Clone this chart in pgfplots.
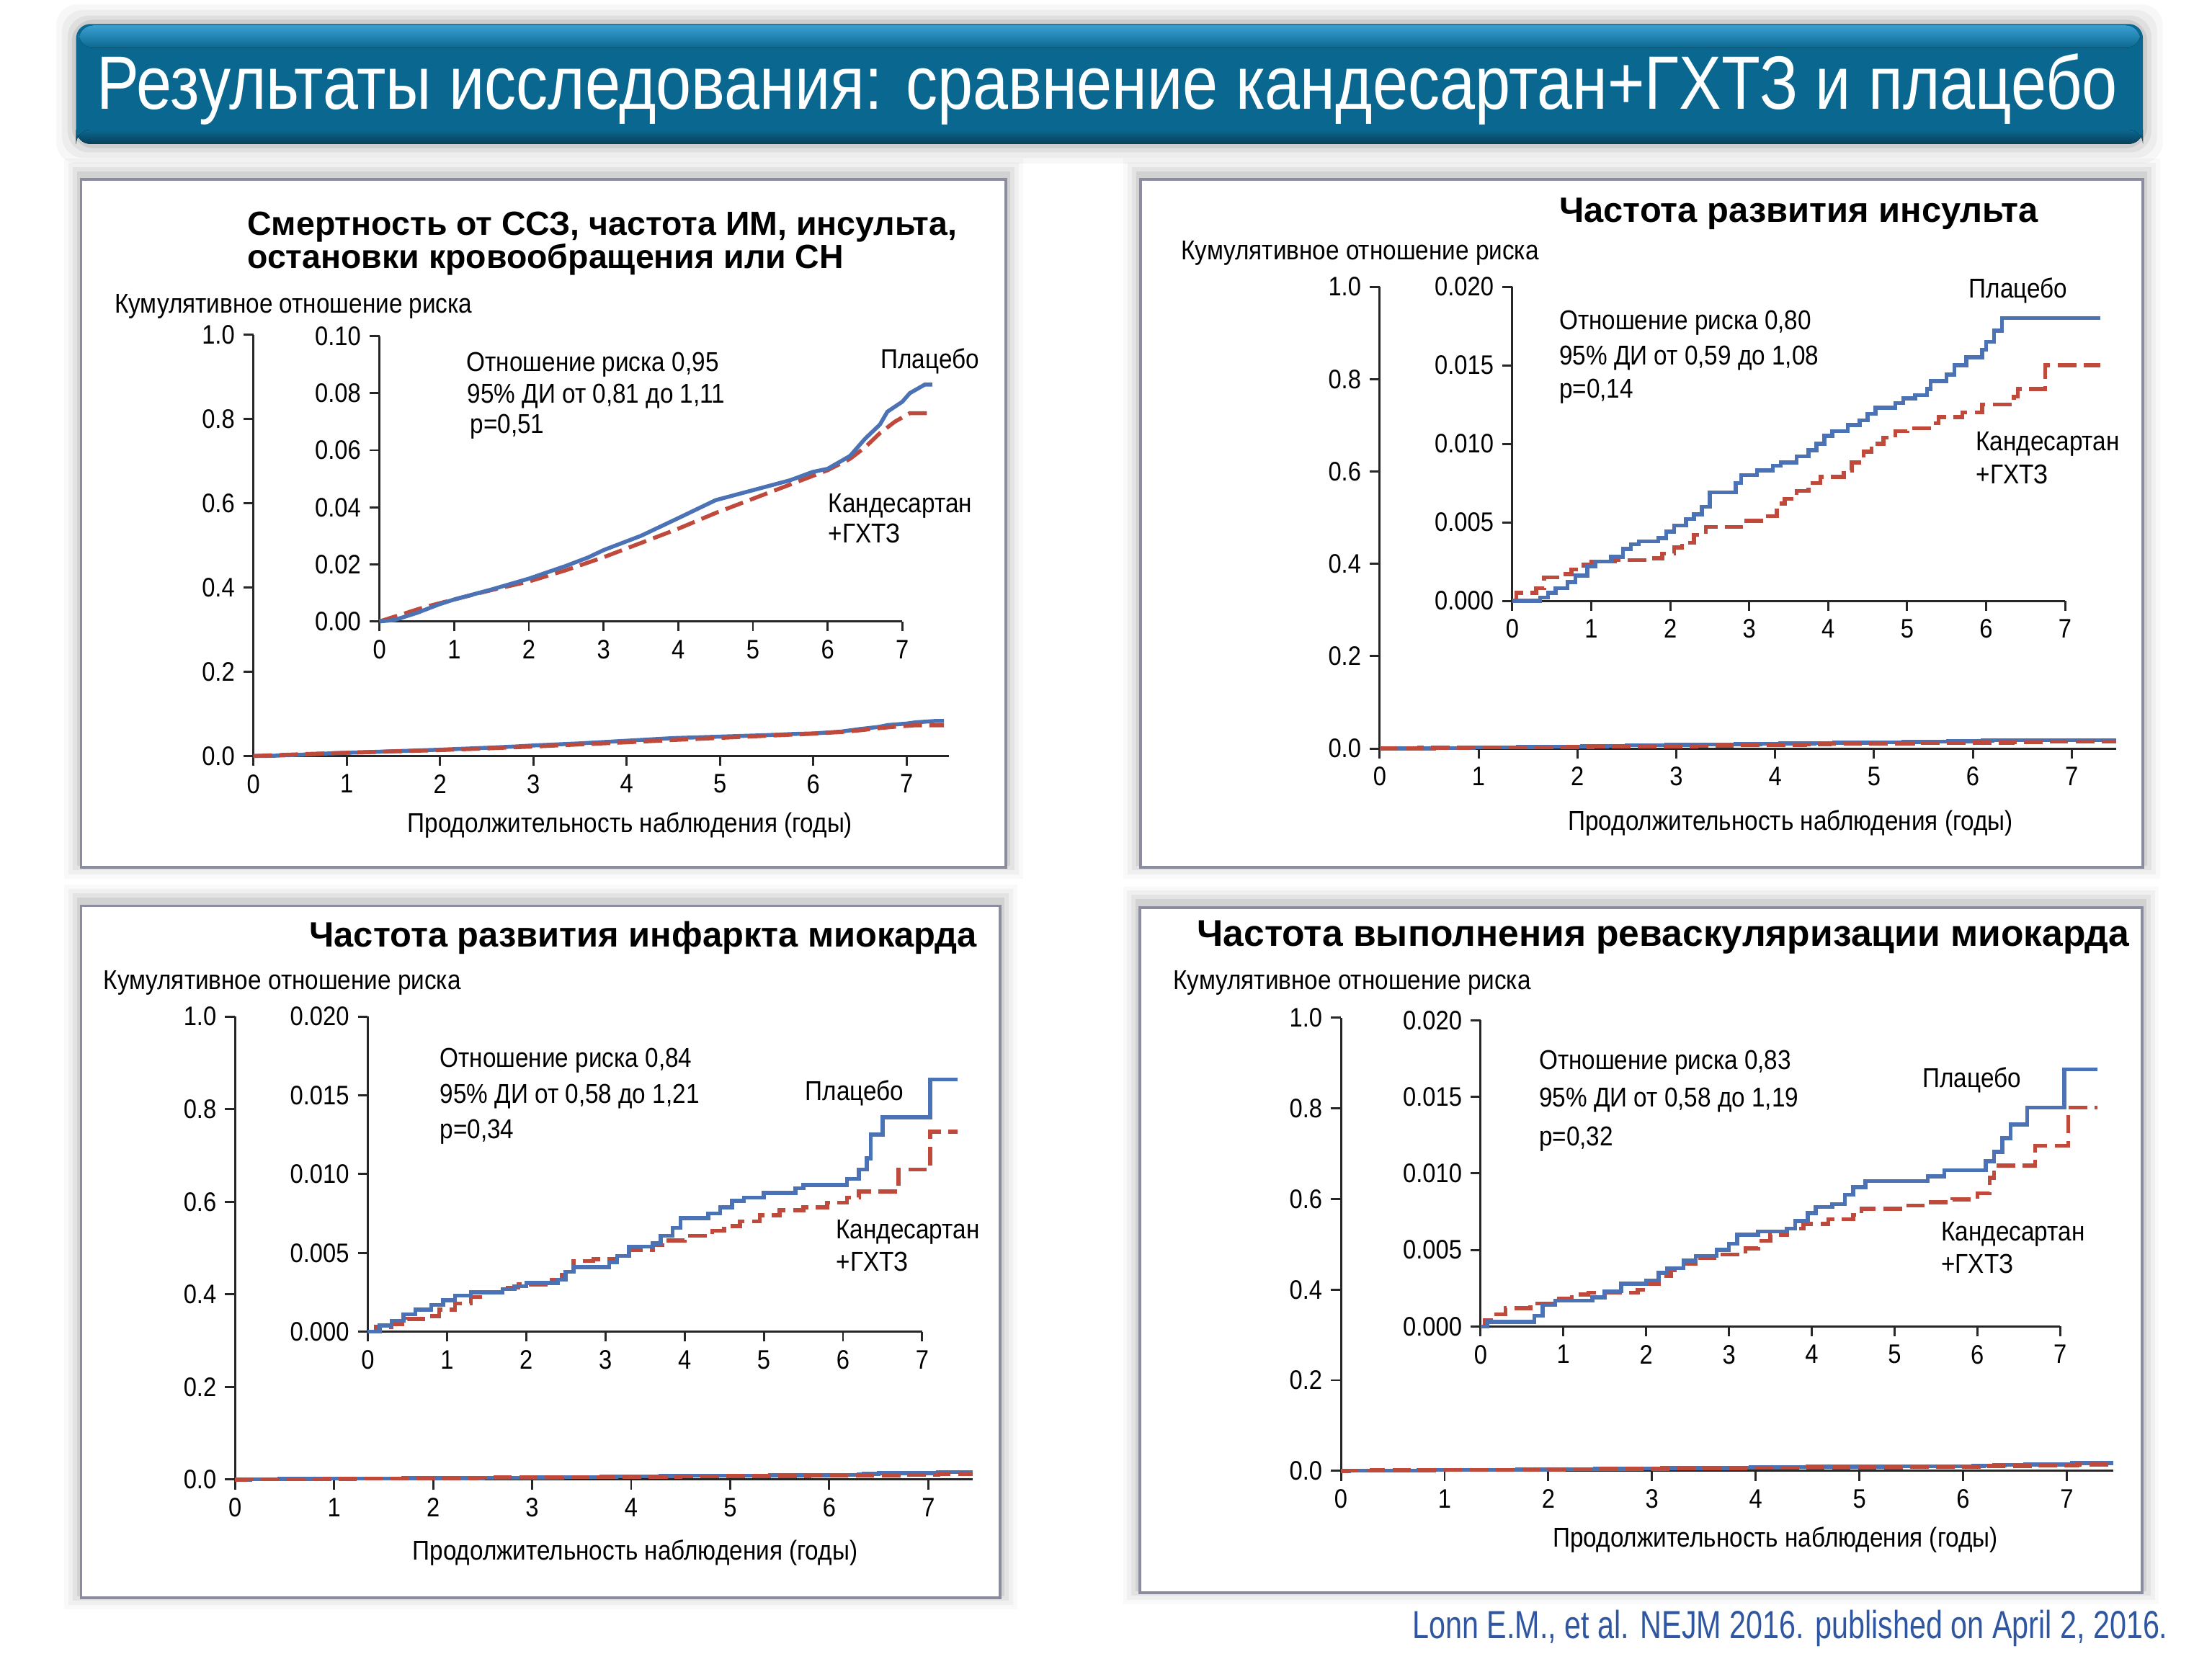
\documentclass[border=0pt]{standalone}
\usepackage{fontspec}
\setmainfont{Liberation Sans}
\newfontfamily\nar{Liberation Sans}[FakeStretch=0.88]
\newfontfamily\narw{Liberation Sans}[FakeStretch=0.84]
\newfontfamily\narc{Liberation Sans}[FakeStretch=0.76]
\usepackage{pgfplots}
\pgfplotsset{compat=1.18}
\usepackage{pgfplotstable}

\definecolor{cPlac}{HTML}{4A72B5}
\definecolor{cCand}{HTML}{BF4A3C}
\definecolor{cBanner}{HTML}{0A6890}
\definecolor{cBannerHi}{HTML}{3AA0D2}
\definecolor{cBannerLo}{HTML}{083F5A}
\definecolor{cFrame}{HTML}{8C8CA0}
\definecolor{cCite}{HTML}{2F56A0}

% ---- data: cumulative hazard
% panel 1: CV death, MI, stroke, arrest or HF
\pgfplotstableread{
x y
0 0
0.2 0.0005
0.5 0.0030
0.8 0.0060
1.0 0.0077
1.5 0.0112
2.0 0.0150
2.5 0.0195
2.8 0.0225
3.0 0.0250
3.5 0.0300
4.0 0.0362
4.5 0.0425
5.0 0.0460
5.5 0.0495
5.8 0.0524
6.0 0.0535
6.3 0.0580
6.5 0.0640
6.7 0.0690
6.8 0.0735
7.0 0.0770
7.1 0.0800
7.3 0.0830
7.4 0.0830
}\oneP
\pgfplotstableread{
x y
0 0
0.3 0.0025
0.6 0.0050
1.0 0.0077
1.5 0.0110
2.0 0.0140
2.5 0.0180
3.0 0.0225
3.5 0.0275
4.0 0.0325
4.5 0.0380
5.0 0.0430
5.5 0.0480
6.0 0.0530
6.3 0.0570
6.5 0.0610
6.7 0.0660
6.9 0.0700
7.0 0.0715
7.1 0.0730
7.4 0.0730
}\oneC
% panel 2: stroke
\pgfplotstableread{
x y
0 0
0.35 0.0002
0.45 0.0005
0.55 0.0008
0.7 0.0012
0.8 0.0016
0.95 0.0022
1.05 0.0025
1.25 0.0028
1.4 0.0033
1.5 0.0036
1.6 0.0038
1.85 0.0040
1.95 0.0044
2.05 0.0048
2.2 0.0052
2.3 0.0055
2.4 0.0060
2.5 0.0069
2.83 0.0075
2.9 0.0080
3.1 0.0083
3.3 0.0086
3.4 0.0088
3.6 0.0092
3.75 0.0096
3.85 0.0100
3.95 0.0105
4.05 0.0108
4.25 0.0112
4.4 0.0115
4.5 0.0119
4.6 0.0123
4.85 0.0126
4.95 0.0129
5.1 0.0131
5.25 0.0135
5.3 0.0140
5.5 0.0144
5.6 0.0150
5.75 0.0155
5.95 0.0160
6.0 0.0165
6.1 0.0172
6.2 0.0180
7.45 0.0180
}\twoP
\pgfplotstableread{
x y
0 0
0.05 0.0005
0.3 0.0008
0.4 0.0015
0.6 0.0017
0.75 0.0020
0.9 0.0023
1.0 0.0025
1.3 0.0026
1.7 0.0027
1.9 0.0030
2.05 0.0034
2.15 0.0037
2.3 0.0042
2.45 0.0047
2.9 0.0051
3.2 0.0054
3.35 0.0062
3.45 0.0065
3.6 0.0070
3.75 0.0075
3.9 0.0079
4.2 0.0083
4.3 0.0088
4.45 0.0095
4.55 0.0100
4.7 0.0104
4.85 0.0108
5.0 0.0110
5.3 0.0113
5.4 0.0117
5.7 0.0120
5.95 0.0125
6.35 0.0130
6.4 0.0135
6.75 0.0150
7.45 0.0150
}\twoC
% panel 3: myocardial infarction
\pgfplotstableread{
x y
0 0
0.15 0.0004
0.3 0.0007
0.45 0.0011
0.6 0.0014
0.8 0.0017
0.95 0.0020
1.1 0.0023
1.3 0.0025
1.7 0.0027
1.85 0.0029
2.0 0.0031
2.4 0.0033
2.5 0.0038
2.6 0.0041
3.05 0.0044
3.15 0.0048
3.3 0.0054
3.6 0.0056
3.7 0.0061
3.85 0.0066
3.95 0.0072
4.3 0.0075
4.45 0.0079
4.6 0.0083
4.75 0.0085
5.0 0.0088
5.4 0.0091
5.5 0.0093
6.05 0.0097
6.2 0.0103
6.3 0.0110
6.35 0.0125
6.5 0.0136
7.1 0.0160
7.45 0.0160
}\threeP
\pgfplotstableread{
x y
0 0
0.1 0.0003
0.3 0.0005
0.5 0.0008
0.7 0.0010
0.9 0.0014
1.1 0.0018
1.3 0.0022
1.5 0.0025
1.7 0.0028
1.9 0.0030
2.3 0.0033
2.45 0.0038
2.6 0.0045
2.85 0.0046
3.15 0.0048
3.3 0.0052
3.6 0.0055
3.8 0.0058
4.0 0.0061
4.35 0.0064
4.5 0.0067
4.7 0.0070
4.95 0.0074
5.2 0.0077
5.5 0.0079
5.8 0.0082
6.05 0.0085
6.2 0.0089
6.7 0.0103
7.1 0.0127
7.45 0.0127
}\threeC
% panel 4: revascularisation
\pgfplotstableread{
x y
0 0
0.08 0.0003
0.65 0.0007
0.75 0.0014
0.9 0.0017
1.35 0.0019
1.5 0.0023
1.7 0.0028
2.0 0.0030
2.15 0.0035
2.25 0.0038
2.45 0.0043
2.6 0.0046
2.85 0.0050
3.0 0.0054
3.1 0.0060
3.35 0.0062
3.7 0.0064
3.8 0.0069
3.95 0.0074
4.05 0.0078
4.25 0.0080
4.4 0.0086
4.5 0.0091
4.65 0.0095
5.4 0.0098
5.6 0.0102
6.1 0.0108
6.2 0.0114
6.3 0.0123
6.4 0.0132
6.6 0.0143
7.05 0.0168
7.45 0.0168
}\fourP
\pgfplotstableread{
x y
0 0
0.05 0.0004
0.15 0.0008
0.3 0.0012
0.6 0.0015
0.9 0.0018
1.1 0.0021
1.3 0.0022
1.9 0.0024
2.0 0.0028
2.15 0.0033
2.3 0.0037
2.45 0.0041
2.6 0.0045
2.9 0.0047
3.2 0.0051
3.35 0.0056
3.5 0.0060
3.7 0.0064
3.9 0.0067
4.2 0.0070
4.5 0.0073
4.6 0.0077
5.1 0.0079
5.4 0.0081
5.7 0.0083
6.0 0.0087
6.15 0.0097
6.2 0.0105
6.7 0.0118
7.1 0.0143
7.45 0.0143
}\fourC

\pgfplotsset{
  kmbase/.style={
    scale only axis, clip=false, anchor=south west,
    axis x line=bottom, axis y line=left,
    axis line style={-, line width=0.85pt, black!85},
    tick style={line width=0.85pt, black!85},
    tick align=outside, major tick length=4pt,
    xmin=0, ymin=0, xtick={0,...,7},
    scaled y ticks=false,
    tick label style={font=\nar\fontsize{10.8}{12}\selectfont},
    /pgf/number format/assume math mode=true,
  },
  outer/.style={kmbase, xmax=7.45, ymax=1, ytick={0,0.2,0.4,0.6,0.8,1},
    y tick label style={/pgf/number format/fixed, /pgf/number format/fixed zerofill, /pgf/number format/precision=1}},
  innerA/.style={kmbase, xmax=7, ymax=0.1, ytick={0,0.02,0.04,0.06,0.08,0.1},
    y tick label style={/pgf/number format/fixed, /pgf/number format/fixed zerofill, /pgf/number format/precision=2}},
  innerB/.style={kmbase, xmax=7, ymax=0.02, ytick={0,0.005,0.01,0.015,0.02},
    y tick label style={/pgf/number format/fixed, /pgf/number format/fixed zerofill, /pgf/number format/precision=3}},
  plac/.style={cPlac, line width=1.6pt},
  cand/.style={cCand, line width=1.6pt, dash pattern=on 7.5pt off 3pt},
}

\tikzset{
  lab/.style={anchor=base west, inner sep=0pt, font=\nar\fontsize{11}{13}\selectfont},
  ttl/.style={anchor=base west, inner sep=0pt, font=\bfseries\fontsize{#1}{16}\selectfont},
}

% frame with a soft halo, in pixel units of the reference (y downwards)
\newcommand\panelframe[4]{%
  \foreach \s/\o in {12/0.025,9/0.035,6/0.05,3/0.07}{
    \fill[black, opacity=\o] ({#1-\s},{#2-\s-3}) rectangle ({#3+\s},{#4+\s-4});
  }
  \draw[cFrame, line width=1.1pt, fill=white] (#1,#2) rectangle (#3,#4);
}

\begin{document}
\begin{tikzpicture}
\begin{scope}[x=0.2mm, y=-0.2mm]
\path[use as bounding box, fill=white] (0,0) rectangle (1568,1176);

% ---- banner
\foreach \s/\o in {14/0.03,10/0.04,6/0.06,3/0.08}{
  \fill[black, opacity=\o, rounded corners=3mm] ({54-\s},{17-\s}) rectangle ({1519+\s},{102+\s});
}
\fill[cBanner, rounded corners=2mm] (54,17) rectangle (1519,102);
\fill[top color=cBannerHi, bottom color=cBanner, rounded corners=2mm] (56,18) rectangle (1517,34);
\fill[top color=cBanner, bottom color=cBannerLo, rounded corners=2mm] (54,92) rectangle (1519,102);
\node[anchor=base, inner sep=0pt, text=white, font=\narw\fontsize{30.5}{34}\selectfont] at (785,77.5)
  {Результаты исследования: сравнение кандесартан+ГХТЗ и плацебо};

% ---- frames
\panelframe{57.5}{127.3}{713}{615}
\panelframe{808.5}{127.3}{1519}{615}
\panelframe{57.5}{642.2}{709}{1133}
\panelframe{808}{643.5}{1518.4}{1129.3}

% ---- panel texts
\node[ttl=13.5] at (175,166.5) {Смертность от ССЗ, частота ИМ, инсульта,};
\node[ttl=13.5] at (175,190) {остановки кровообращения или СН};
\node[lab] at (81,222) {Кумулятивное отношение риска};
\node[lab] at (330.5,263.3) {Отношение риска 0,95};
\node[lab] at (331,285.8) {95\% ДИ от 0,81 до 1,11};
\node[lab] at (333,307) {p=0,51};
\node[lab] at (624,261) {Плацебо};
\node[lab] at (587,363.4) {Кандесартан};
\node[lab] at (587,384.7) {+ГХТЗ};
\node[lab, anchor=base] at (446.6,590) {Продолжительность наблюдения (годы)};

\node[ttl=14.2] at (1105,157.6) {Частота развития инсульта};
\node[lab] at (837,184.2) {Кумулятивное отношение риска};
\node[lab] at (1105,233.6) {Отношение риска 0,80};
\node[lab] at (1105,258.6) {95\% ДИ от 0,59 до 1,08};
\node[lab] at (1105,282) {p=0,14};
\node[lab] at (1395.4,211) {Плацебо};
\node[lab] at (1400.4,319.6) {Кандесартан};
\node[lab] at (1400.4,343) {+ГХТЗ};
\node[lab, anchor=base] at (1269.3,588.6) {Продолжительность наблюдения (годы)};

\node[ttl=14.2] at (219,671.3) {Частота развития инфаркта миокарда};
\node[lab] at (73,701.6) {Кумулятивное отношение риска};
\node[lab] at (311.5,756.5) {Отношение риска 0,84};
\node[lab] at (311.5,782) {95\% ДИ от 0,58 до 1,21};
\node[lab] at (311.5,807) {p=0,34};
\node[lab] at (570.5,780) {Плацебо};
\node[lab] at (592.4,878) {Кандесартан};
\node[lab] at (592.4,901) {+ГХТЗ};
\node[lab, anchor=base] at (450.2,1106) {Продолжительность наблюдения (годы)};

\node[ttl=15] at (848.2,670.9) {Частота выполнения реваскуляризации миокарда};
\node[lab] at (831.4,701.7) {Кумулятивное отношение риска};
\node[lab] at (1090.7,758.1) {Отношение риска 0,83};
\node[lab] at (1090.7,784.8) {95\% ДИ от 0,58 до 1,19};
\node[lab] at (1090.7,812.2) {p=0,32};
\node[lab] at (1362.6,771.1) {Плацебо};
\node[lab] at (1375.8,879.6) {Кандесартан};
\node[lab] at (1375.8,902.5) {+ГХТЗ};
\node[lab, anchor=base] at (1258.5,1096.8) {Продолжительность наблюдения (годы)};

\node[anchor=base east, inner sep=0pt, text=cCite, font=\narc\fontsize{15.8}{18}\selectfont] at (1537,1161.8)
  {Lonn E.M., et al. NEJM 2016. published on April 2, 2016.};
\end{scope}

% ================= panel 1 =================
\begin{axis}[outer, at={(35.92mm,-107.2mm)}, width=98.56mm, height=59.74mm]
  \addplot[plac] table {\oneP};
  \addplot[cand] table {\oneC};
\end{axis}
\begin{axis}[innerA, at={(53.8mm,-88.12mm)}, width=74.12mm, height=40.46mm]
  \addplot[cand] table {\oneC};
  \addplot[plac] table {\oneP};
\end{axis}

% ================= panel 2 =================
\begin{axis}[outer, at={(195.6mm,-106.14mm)}, width=104.4mm, height=65.48mm]
  \addplot[plac, const plot] table {\twoP};
  \addplot[cand, const plot] table {\twoC};
\end{axis}
\begin{axis}[innerB, at={(214.4mm,-85.2mm)}, width=78.36mm, height=44.54mm]
  \addplot[cand, const plot] table {\twoC};
  \addplot[plac, const plot] table {\twoP};
\end{axis}

% ================= panel 3 =================
\begin{axis}[outer, at={(33.32mm,-209.8mm)}, width=104.6mm, height=65.66mm]
  \addplot[plac, const plot] table {\threeP};
  \addplot[cand, const plot] table {\threeC};
\end{axis}
\begin{axis}[innerB, at={(52.14mm,-188.84mm)}, width=78.6mm, height=44.7mm]
  \addplot[cand, const plot] table {\threeC};
  \addplot[plac, const plot] table {\threeP};
\end{axis}

% ================= panel 4 =================
\begin{axis}[outer, at={(190.1mm,-208.56mm)}, width=109.52mm, height=64.24mm]
  \addplot[plac, const plot] table {\fourP};
  \addplot[cand, const plot] table {\fourC};
\end{axis}
\begin{axis}[innerB, at={(209.9mm,-188.1mm)}, width=82.16mm, height=43.44mm]
  \addplot[cand, const plot] table {\fourC};
  \addplot[plac, const plot] table {\fourP};
\end{axis}
\end{tikzpicture}
\end{document}
